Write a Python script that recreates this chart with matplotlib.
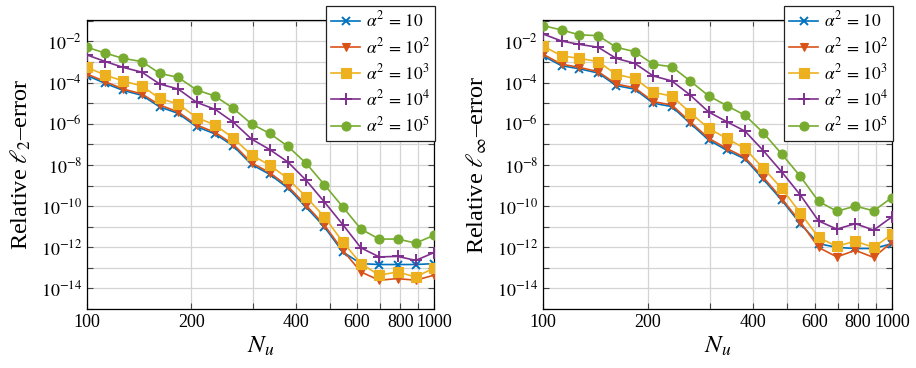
import numpy as np
import matplotlib
matplotlib.use("Agg")
from matplotlib import pyplot as plt
from matplotlib.ticker import FixedLocator, FuncFormatter, NullLocator

plt.rcParams['font.family'] = 'serif'
plt.rcParams['font.serif'] = ['Liberation Serif', 'DejaVu Serif']
plt.rcParams['mathtext.fontset'] = 'stix'

# number of unknowns N_u
n_u = [100, 113, 127, 144, 162, 183, 207, 234, 264, 298,
       336, 379, 428, 483, 546, 616, 695, 785, 886, 1000]

labels = [r'$\alpha^2\,=\,10$', r'$\alpha^2\,=\,10^2$', r'$\alpha^2\,=\,10^3$',
          r'$\alpha^2\,=\,10^4$', r'$\alpha^2\,=\,10^5$']

# relative l2 error, one list per alpha^2
l2_a1 = [2.2e-4, 9.1e-5, 4.2e-5, 2.4e-5, 6.6e-6, 3.2e-6, 7.2e-7, 3.2e-7, 8.3e-8, 1.05e-8,
         3.5e-9, 7.6e-10, 8.9e-11, 9.8e-12, 5.9e-13, 1.6e-13, 1.45e-13, 1.45e-13, 1.45e-13, 1.6e-13]
l2_a2 = [2.6e-4, 1.1e-4, 4.9e-5, 2.8e-5, 8.1e-6, 3.8e-6, 8.7e-7, 3.8e-7, 1.0e-7, 1.26e-8,
         4.2e-9, 9.3e-10, 1.1e-10, 1.2e-11, 7.1e-13, 6.3e-14, 2.5e-14, 3.0e-14, 2.5e-14, 4.4e-14]
l2_a3 = [5.5e-4, 2.3e-4, 1.2e-4, 6.8e-5, 1.7e-5, 9.1e-6, 2.0e-6, 8.7e-7, 2.0e-7, 3.0e-8,
         9.8e-9, 2.2e-9, 2.8e-10, 3.0e-11, 1.8e-12, 1.6e-13, 4.4e-14, 6.3e-14, 3.6e-14, 9.8e-14]
l2_a4 = [2.2e-3, 1.05e-3, 5.5e-4, 3.2e-4, 8.5e-5, 4.9e-5, 1.1e-5, 5.0e-6, 1.2e-6, 1.8e-7,
         5.6e-8, 1.4e-8, 1.8e-9, 1.6e-10, 1.26e-11, 9.3e-13, 3.4e-13, 3.6e-13, 2.3e-13, 5.5e-13]
l2_a5 = [5.2e-3, 2.7e-3, 1.5e-3, 1.05e-3, 2.8e-4, 1.8e-4, 4.4e-5, 2.2e-5, 5.6e-6, 9.8e-7,
         3.4e-7, 8.1e-8, 1.2e-8, 1.1e-9, 9.1e-11, 7.6e-12, 2.5e-12, 2.5e-12, 1.6e-12, 3.8e-12]

# relative l_inf error
li_a1 = [2.0e-3, 6.6e-4, 4.7e-4, 2.9e-4, 7.2e-5, 4.8e-5, 1.0e-5, 6.8e-6, 1.05e-6, 1.66e-7,
         5.2e-8, 1.95e-8, 2.0e-9, 1.95e-10, 1.4e-11, 1.5e-12, 9.8e-13, 8.7e-13, 8.7e-13, 1.5e-12]
li_a2 = [2.4e-3, 7.8e-4, 5.5e-4, 3.4e-4, 8.5e-5, 5.6e-5, 1.2e-5, 8.1e-6, 1.26e-6, 2.0e-7,
         6.3e-8, 2.3e-8, 2.5e-9, 2.3e-10, 1.7e-11, 9.8e-13, 3.4e-13, 7.1e-13, 3.2e-13, 1.8e-12]
li_a3 = [6.0e-3, 2.0e-3, 1.5e-3, 1.05e-3, 2.5e-4, 1.6e-4, 3.4e-5, 2.2e-5, 3.5e-6, 6.0e-7,
         1.95e-7, 6.3e-8, 6.8e-9, 7.2e-10, 4.7e-11, 3.0e-12, 1.1e-12, 2.0e-12, 9.8e-13, 4.3e-12]
li_a4 = [2.3e-2, 1.05e-2, 7.2e-3, 5.2e-3, 1.5e-3, 8.7e-4, 2.1e-4, 1.2e-4, 2.5e-5, 3.8e-6,
         1.26e-6, 4.4e-7, 4.9e-8, 4.6e-9, 3.5e-10, 1.9e-11, 7.6e-12, 1.4e-11, 6.8e-12, 3.0e-11]
li_a5 = [5.9e-2, 3.6e-2, 2.1e-2, 1.9e-2, 5.2e-3, 3.2e-3, 7.8e-4, 5.9e-4, 1.2e-4, 2.3e-5,
         7.6e-6, 2.6e-6, 3.6e-7, 3.4e-8, 2.8e-9, 1.7e-10, 5.6e-11, 1.0e-10, 5.9e-11, 2.6e-10]

colors = ['#0072BD', '#D95319', '#EDB120', '#7E2F8E', '#77AC30']
markers = ['x', 'v', 's', '+', 'o']
msizes = [6, 6, 6.5, 9, 6.5]

xticks_all = [100, 200, 300, 400, 500, 600, 700, 800, 900, 1000]
xtick_labels = ['100', '200', '', '400', '', '600', '', '800', '', '1000']


def xlab(v, pos):
    k = int(round(v))
    return xtick_labels[xticks_all.index(k)] if k in xticks_all else ''


def ylab(v, pos):
    e = int(round(np.log10(v)))
    if e % 2 == 0:
        return r'$10^{%d}$' % e
    return ''


fig = plt.figure(figsize=(9.16, 3.68), dpi=100)
ax1 = fig.add_axes([87/916, 59/368, 347/916, 289/368])
ax2 = fig.add_axes([543/916, 59/368, 349/916, 289/368])

panels = [(ax1, [l2_a1, l2_a2, l2_a3, l2_a4, l2_a5], r'Relative $\ell_2$–error'),
          (ax2, [li_a1, li_a2, li_a3, li_a4, li_a5], r'Relative $\ell_\infty$–error')]

for ax, series, ytxt in panels:
    for s, c, m, ms, lab in zip(series, colors, markers, msizes, labels):
        ax.plot(n_u, s, color=c, marker=m, markersize=ms, lw=1.2,
                markeredgewidth=1.4 if m in 'x+' else 0.8, label=lab, zorder=3)
    ax.set_xscale('log')
    ax.set_yscale('log')
    ax.set_xlim(100, 1000)
    ax.set_ylim(1e-15, 1.1e-1)
    ax.xaxis.set_major_locator(FixedLocator(xticks_all))
    ax.xaxis.set_major_formatter(FuncFormatter(xlab))
    ax.xaxis.set_minor_locator(NullLocator())
    ax.yaxis.set_major_locator(FixedLocator([10.0**k for k in range(-15, 0)]))
    ax.yaxis.set_major_formatter(FuncFormatter(ylab))
    ax.yaxis.set_minor_locator(NullLocator())
    ax.tick_params(direction='in', top=True, right=True, length=4, labelsize=13, color='#444444')
    ax.grid(True, color='#d4d4d4', lw=0.9, zorder=0)
    ax.set_axisbelow(True)
    for sp in ax.spines.values():
        sp.set_linewidth(0.9)
    ax.set_xlabel(r'$N_u$', fontsize=18, labelpad=3)
    ax.set_ylabel(ytxt, fontsize=17.5, labelpad=6)
    leg = ax.legend(loc='upper right', bbox_to_anchor=(1.003, 1.05), borderaxespad=0,
                    fontsize=12.5, fancybox=False, framealpha=1, edgecolor='#222222',
                    handlelength=1.7, handletextpad=0.3, labelspacing=0.36, borderpad=0.3)
    leg.get_frame().set_linewidth(0.9)
    leg.set_zorder(5)

fig.savefig('out.png', dpi=100)
